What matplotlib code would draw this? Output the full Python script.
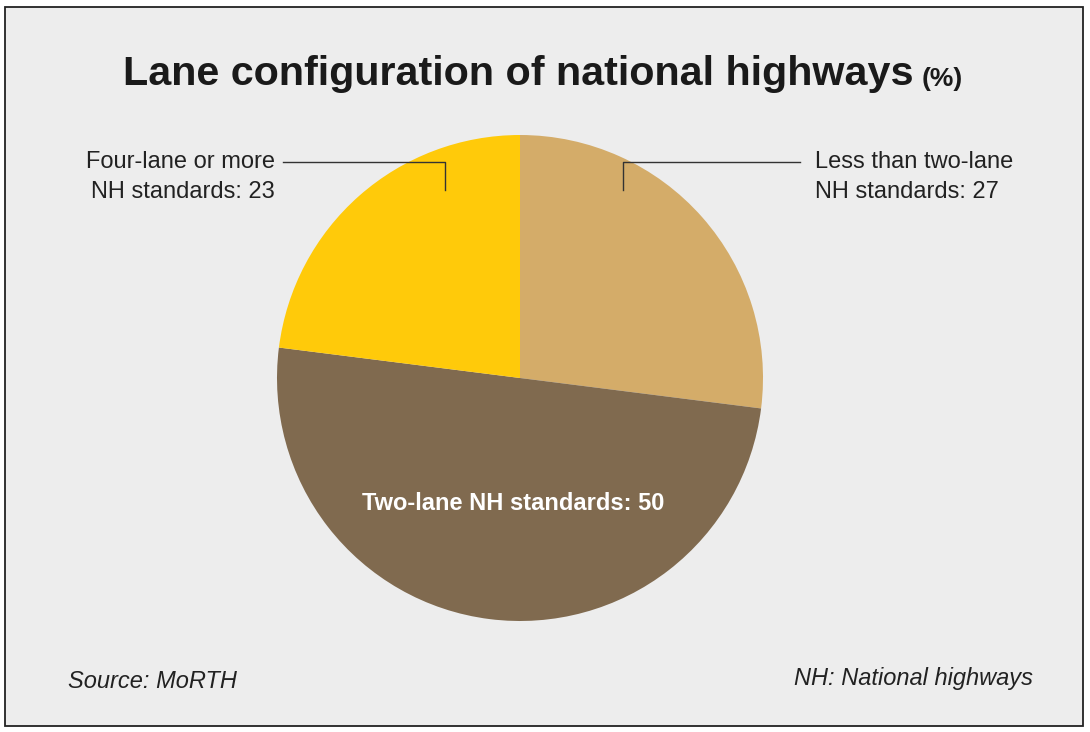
import numpy as np
import matplotlib.pyplot as plt
from matplotlib.patches import Rectangle

plt.rcParams['font.family'] = ['Liberation Sans Narrow', 'Liberation Sans', 'DejaVu Sans']

# data
labels = ['Less than two-lane\nNH standards: 27', 'Two-lane NH standards: 50', 'Four-lane or more\nNH standards: 23']
shares = [27, 50, 23]
colors = ['#D4AC69', '#806A4F', '#FFCA0A']

W, H = 1090, 732
fig = plt.figure(figsize=(W / 100, H / 100), dpi=100)
ax = fig.add_axes([0, 0, 1, 1])

# panel background with border
ax.add_patch(Rectangle((5, 6), 1078, 719, facecolor='#EDEDED', edgecolor='#222222', lw=1.3, zorder=0))

cx, cy, r = 520, H - 378, 243
ax.pie(shares, colors=colors, startangle=90, counterclock=False,
       center=(cx, cy), radius=r, wedgeprops=dict(linewidth=0), frame=True)

ax.set_xlim(0, W)
ax.set_ylim(0, H)
ax.set_aspect('auto')
ax.axis('off')

# title
ax.text(914, H - 74, 'Lane configuration of national highways', fontsize=29.7, fontweight='bold',
        color='#1A1A1A', ha='right', va='center')
ax.text(922, H - 79, '(%)', fontsize=19, fontweight='bold', color='#1A1A1A', ha='left', va='center')

# outside labels with leader lines
ly = H - 162
ax.plot([283, 445, 445], [ly, ly, H - 190], color='#333333', lw=1)
ax.plot([800, 623, 623], [ly, ly, H - 190], color='#333333', lw=1)
ax.text(275, H - 177, labels[2], fontsize=17, ha='right', va='center', color='#222222', linespacing=1.5)
ax.text(815, H - 177, labels[0], fontsize=17, ha='left', va='center', color='#222222', linespacing=1.5)

# inside label
ax.text(513, H - 503, labels[1], fontsize=17, fontweight='bold', color='white', ha='center', va='center')

# footer
ax.text(68, H - 682, 'Source: MoRTH', fontsize=17, style='italic', color='#222222', ha='left', va='center')
ax.text(1033, H - 678, 'NH: National highways', fontsize=17, style='italic', color='#222222', ha='right', va='center')

fig.savefig('out.png', dpi=100, facecolor='white')
